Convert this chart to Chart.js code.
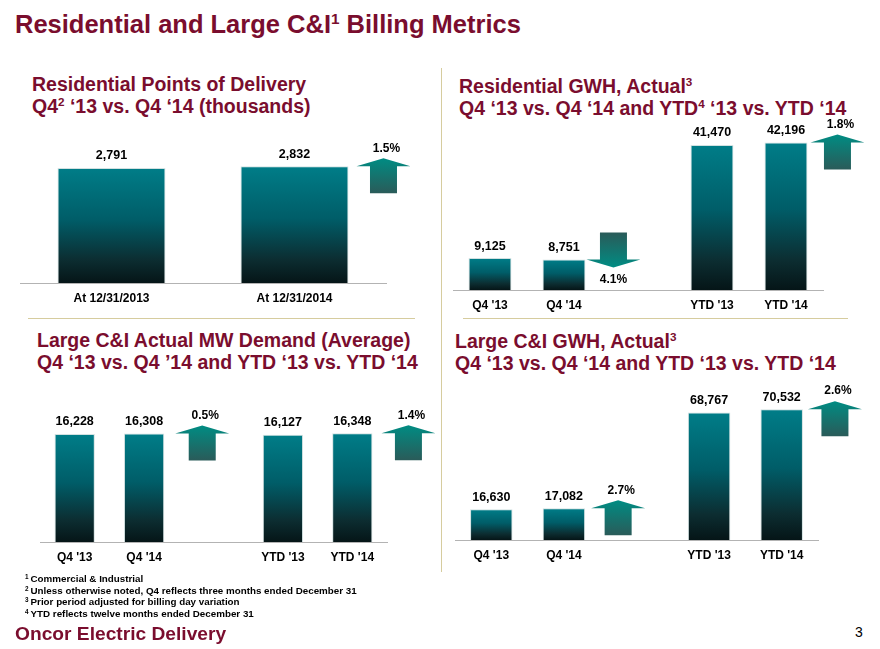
<!DOCTYPE html>
<html><head><meta charset="utf-8">
<script src="https://cdn.jsdelivr.net/npm/chart.js@4.4.1/dist/chart.umd.min.js"></script>
<style>
html,body{margin:0;padding:0;background:#fff;}
body{width:880px;height:649px;position:relative;overflow:hidden;font-family:"Liberation Sans",Arial,sans-serif;}
.t{position:absolute;white-space:nowrap;font-weight:bold;color:#7a0d2e;}
.main{left:15px;top:10px;font-size:25.5px;line-height:29px;}
.sub{font-size:19.5px;line-height:22px;}
.t sup{font-size:0.6em;line-height:0;vertical-align:0.6em;}
.fn{position:absolute;left:25px;top:573px;font-size:9.8px;line-height:11.6px;font-weight:bold;color:#000;white-space:nowrap;}
.fn sup{font-size:0.65em;line-height:0;vertical-align:0.45em;margin-right:2px;}
.oncor{left:15px;top:623px;font-size:19.2px;line-height:22px;}
.pg{position:absolute;left:855px;top:624px;font-size:14px;line-height:16px;color:#000;}
.vline{position:absolute;left:441px;top:68px;width:1px;height:504px;background:#d6cc9e;}
.hline{position:absolute;top:318px;height:1px;background:#d6cc9e;}
canvas{position:absolute;}
</style>
</head><body>
<div class="t main">Residential and Large C&amp;I<sup>1</sup> Billing Metrics</div>
<div class="t sub" style="left:32px;top:73px;">Residential Points of Delivery<br>Q4<sup>2</sup> ‘13 vs. Q4 ‘14 (thousands)</div>
<div class="t sub" style="left:459px;top:75px;">Residential GWH, Actual<sup>3</sup><br>Q4 ‘13 vs. Q4 ‘14 and YTD<sup>4</sup> ‘13 vs. YTD ‘14</div>
<div class="t sub" style="left:37px;top:329px;">Large C&amp;I Actual MW Demand (Average)<br>Q4 ‘13 vs. Q4 ’14 and YTD ‘13 vs. YTD ‘14</div>
<div class="t sub" style="left:455px;top:330px;">Large C&amp;I GWH, Actual<sup>3</sup><br>Q4 ‘13 vs. Q4 ‘14 and YTD ‘13 vs. YTD ‘14</div>
<div class="vline"></div>
<div class="hline" style="left:28px;width:387px;"></div>
<div class="hline" style="left:463px;width:385px;"></div>
<canvas id="c1"></canvas>
<canvas id="c2"></canvas>
<canvas id="c3"></canvas>
<canvas id="c4"></canvas>
<div class="fn"><sup>1</sup>Commercial &amp; Industrial<br><sup>2</sup>Unless otherwise noted, Q4 reflects three months ended December 31<br><sup>3</sup>Prior period adjusted for billing day variation<br><sup>4</sup>YTD reflects twelve months ended December 31</div>
<div class="t oncor">Oncor Electric Delivery</div>
<div class="pg">3</div>
<script>
// ---------- DATA ----------
const podCategories = ['At 12/31/2013', 'At 12/31/2014'];
const podValues = [2791, 2832];
const podChangeText = ['1.5%'];
const podChangeDir = ['up'];

const periodCategories = ["Q4 '13", "Q4 '14", "", "YTD '13", "YTD '14"];

const resGwhValues = [9125, 8751, null, 41470, 42196];
const resGwhChangeText = ['4.1%', '1.8%'];
const resGwhChangeDir = ['down', 'up'];

const mwDemandValues = [16228, 16308, null, 16127, 16348];
const mwDemandChangeText = ['0.5%', '1.4%'];
const mwDemandChangeDir = ['up', 'up'];

const ciGwhValues = [16630, 17082, null, 68767, 70532];
const ciGwhChangeText = ['2.7%', '2.6%'];
const ciGwhChangeDir = ['up', 'up'];

// ---------- RENDERING ----------
const FONT = "'Liberation Sans', Arial, sans-serif";
const AXIS_PAD = 8.5;
const AXIS_H = 14.4 + 2 * AXIS_PAD;

function barGradient(ctx) {
  const chart = ctx.chart;
  const area = chart.chartArea;
  if (!area || ctx.type !== 'data') return '#006f7a';
  const v = ctx.raw;
  if (v == null) return 'rgba(0,0,0,0)';
  const y = chart.scales.y;
  const top = y.getPixelForValue(v), bot = y.getPixelForValue(0);
  const g = chart.ctx.createLinearGradient(0, top, 0, bot);
  g.addColorStop(0, '#007d88');
  g.addColorStop(0.45, '#005d68');
  g.addColorStop(0.8, '#0c2d31');
  g.addColorStop(1, '#051517');
  return g;
}

function drawArrow(c, cx, baseY, dir, text) {
  const hw = 27, sw = 13.5, hh = 8, sl = 27;
  c.save();
  c.beginPath();
  let g;
  if (dir === 'up') {
    g = c.createLinearGradient(0, baseY - hh, 0, baseY + sl);
    g.addColorStop(0, '#008c83'); g.addColorStop(1, '#2a5b59');
    c.moveTo(cx, baseY - hh); c.lineTo(cx + hw, baseY); c.lineTo(cx + sw, baseY);
    c.lineTo(cx + sw, baseY + sl); c.lineTo(cx - sw, baseY + sl); c.lineTo(cx - sw, baseY);
    c.lineTo(cx - hw, baseY);
  } else {
    g = c.createLinearGradient(0, baseY - sl, 0, baseY + hh);
    g.addColorStop(0, '#2a5b59'); g.addColorStop(1, '#008c83');
    c.moveTo(cx, baseY + hh); c.lineTo(cx + hw, baseY); c.lineTo(cx + sw, baseY);
    c.lineTo(cx + sw, baseY - sl); c.lineTo(cx - sw, baseY - sl); c.lineTo(cx - sw, baseY);
    c.lineTo(cx - hw, baseY);
  }
  c.closePath();
  c.fillStyle = g; c.fill();
  c.fillStyle = '#000';
  c.font = 'bold 12px ' + FONT;
  c.textAlign = 'center'; c.textBaseline = 'middle';
  if (dir === 'up') c.fillText(text, cx + 3, baseY - hh - 10);
  else c.fillText(text, cx, baseY + hh + 12);
  c.restore();
}

function makeChart(id, cfg) {
  const canvas = document.getElementById(id);
  const areaH = cfg.base - cfg.areaTop;
  const W = cfg.canvasRight - cfg.left;
  const H = Math.ceil(cfg.padTop + areaH + AXIS_H + 2);
  const padBottom = H - cfg.padTop - areaH - AXIS_H;
  canvas.width = W; canvas.height = H;
  canvas.style.width = W + 'px'; canvas.style.height = H + 'px';
  canvas.style.left = cfg.left + 'px';
  canvas.style.top = (cfg.areaTop - cfg.padTop) + 'px';
  const labelPlugin = {
    id: 'labels_' + id,
    afterDatasetsDraw(chart) {
      const c = chart.ctx;
      const meta = chart.getDatasetMeta(0);
      const data = chart.data.datasets[0].data;
      c.save();
      c.fillStyle = '#000';
      c.font = 'bold 12.5px ' + FONT;
      c.textAlign = 'center'; c.textBaseline = 'middle';
      meta.data.forEach((el, i) => {
        if (data[i] == null) return;
        c.fillText(data[i].toLocaleString('en-US'), el.x, el.y - 12);
      });
      c.restore();
      cfg.arrowIdx.forEach((bi, k) => {
        const el = meta.data[bi];
        const right = el.x + el.width / 2;
        drawArrow(c, right + cfg.arrowGap[k] + 27, el.y, cfg.dirs[k], cfg.texts[k]);
      });
    }
  };
  return new Chart(canvas, {
    type: 'bar',
    data: {
      labels: cfg.labels,
      datasets: [{
        data: cfg.values,
        backgroundColor: barGradient,
        borderColor: 'rgba(205,222,222,0.9)',
        borderWidth: 1,
        borderSkipped: 'start',
        categoryPercentage: 1,
        barPercentage: cfg.barPct
      }]
    },
    options: {
      responsive: false,
      animation: false,
      devicePixelRatio: 1,
      layout: { padding: { top: cfg.padTop, right: cfg.canvasRight - cfg.areaRight, bottom: padBottom, left: 0 } },
      plugins: { legend: { display: false }, tooltip: { enabled: false } },
      scales: {
        x: {
          grid: { display: false, drawTicks: false, tickLength: 0 },
          border: { display: true, color: '#b3b3b3', width: 1 },
          ticks: { color: '#000', padding: AXIS_PAD, font: { family: FONT, size: 12, weight: 'bold' }, maxRotation: 0, autoSkip: false }
        },
        y: { display: false, min: 0, max: cfg.yMax }
      }
    },
    plugins: [labelPlugin]
  });
}

makeChart('c1', {
  labels: podCategories, values: podValues, texts: podChangeText, dirs: podChangeDir,
  arrowIdx: [1], arrowGap: [8], barPct: 0.59,
  left: 20, areaRight: 386, canvasRight: 425, areaTop: 140, base: 283, padTop: 30, yMax: 3468
});
makeChart('c2', {
  labels: periodCategories, values: resGwhValues, texts: resGwhChangeText, dirs: resGwhChangeDir,
  arrowIdx: [1, 4], arrowGap: [1, 3], barPct: 0.58,
  left: 453, areaRight: 823, canvasRight: 876, areaTop: 115, base: 290, padTop: 30, yMax: 50050
});
makeChart('c3', {
  labels: periodCategories, values: mwDemandValues, texts: mwDemandChangeText, dirs: mwDemandChangeDir,
  arrowIdx: [1, 4], arrowGap: [11, 9], barPct: 0.58,
  left: 40, areaRight: 387, canvasRight: 440, areaTop: 395, base: 542, padTop: 15, yMax: 22094
});
makeChart('c4', {
  labels: periodCategories, values: ciGwhValues, texts: ciGwhChangeText, dirs: ciGwhChangeDir,
  arrowIdx: [1, 4], arrowGap: [6, 5], barPct: 0.585,
  left: 455, areaRight: 818, canvasRight: 876, areaTop: 385, base: 540, padTop: 15, yMax: 83545
});
</script>
</body></html>
